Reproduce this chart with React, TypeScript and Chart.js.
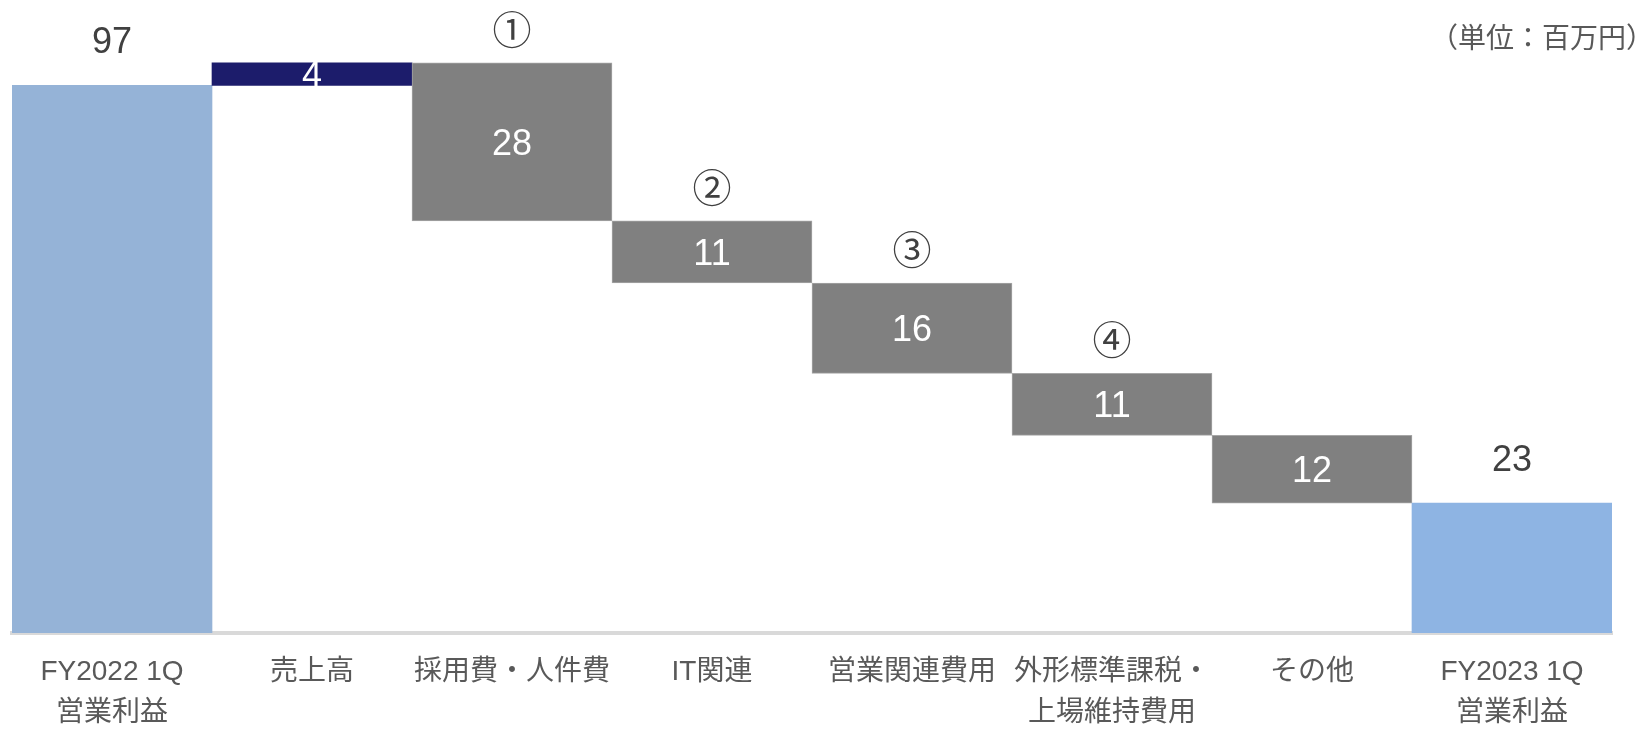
import React, { useEffect, useRef } from 'react';
import { Chart, registerables } from 'chart.js';

Chart.register(...registerables);

// ---- data ----
const categories: string[][] = [
  ['FY2022 1Q', '営業利益'],
  ['売上高'],
  ['採用費・人件費'],
  ['IT関連'],
  ['営業関連費用'],
  ['外形標準課税・', '上場維持費用'],
  ['その他'],
  ['FY2023 1Q', '営業利益'],
];
const changes: number[] = [97, 4, -28, -11, -16, -11, -12, 23];
const kinds: string[] = ['total', 'up', 'down', 'down', 'down', 'down', 'down', 'total'];
const markers: string[] = ['', '', '①', '②', '③', '④', '', ''];
const barColors: string[] = ['#95B3D7', '#1C1C6B', '#808080', '#808080', '#808080', '#808080', '#808080', '#8EB4E3'];
const unitLabel = '（単位：百万円）';
const yMax = 110;

const LATIN = '"Liberation Sans", Arial, "Noto Sans CJK JP", sans-serif';
const CJK = '"Noto Sans CJK JP", "Liberation Sans", sans-serif';

function buildRanges(): [number, number][] {
  let run = 0;
  return changes.map((v, i) => {
    if (kinds[i] === 'total') {
      run = v;
      return [0, v] as [number, number];
    }
    const s = run;
    run += v;
    return [Math.min(s, run), Math.max(s, run)] as [number, number];
  });
}

const labelPlugin = {
  id: 'waterfallLabels',
  afterDatasetsDraw(chart: any) {
    const ctx = chart.ctx as CanvasRenderingContext2D;
    const meta = chart.getDatasetMeta(0);
    meta.data.forEach((el: any, i: number) => {
      const top = Math.min(el.y, el.base);
      const bottom = Math.max(el.y, el.base);
      ctx.save();
      ctx.textAlign = 'center';
      ctx.textBaseline = 'middle';
      ctx.font = `36px ${LATIN}`;
      const txt = String(Math.abs(changes[i]));
      if (kinds[i] === 'total') {
        ctx.fillStyle = '#404040';
        ctx.fillText(txt, el.x, top - 42);
      } else {
        ctx.fillStyle = '#ffffff';
        ctx.fillText(txt, el.x, (top + bottom) / 2 + 3);
      }
      if (markers[i]) {
        ctx.font = `39px ${CJK}`;
        ctx.fillStyle = '#404040';
        ctx.fillText(markers[i], el.x, top - 34);
      }
      ctx.restore();
    });
  },
  afterDraw(chart: any) {
    const ctx = chart.ctx as CanvasRenderingContext2D;
    ctx.save();
    ctx.font = `28px ${CJK}`;
    ctx.fillStyle = '#595959';
    ctx.textAlign = 'right';
    ctx.textBaseline = 'middle';
    ctx.fillText(unitLabel, 1654, 37);
    ctx.restore();
  },
};

export default function App() {
  const ref = useRef<HTMLCanvasElement | null>(null);

  useEffect(() => {
    if (!ref.current) return;
    const ranges = buildRanges();
    const chart = new Chart(ref.current, {
      type: 'bar',
      data: {
        labels: categories as any,
        datasets: [
          {
            data: ranges as any,
            backgroundColor: barColors,
            borderColor: kinds.map((k) => (k === 'down' ? '#a6a6a6' : 'rgba(0,0,0,0)')),
            borderWidth: kinds.map((k) => (k === 'down' ? 1 : 0)),
            borderSkipped: false,
            barPercentage: 1,
            categoryPercentage: 1,
          },
        ],
      },
      options: {
        animation: false,
        responsive: false,
        devicePixelRatio: 1,
        layout: { padding: { left: 12, right: 33, top: 12, bottom: 0 } },
        plugins: {
          legend: { display: false },
          tooltip: { enabled: false },
          title: { display: false },
        },
        scales: {
          x: {
            type: 'category',
            z: 1,
            grid: { display: false, drawTicks: false },
            border: { display: true, color: '#d9d9d9', width: 4 },
            ticks: {
              color: '#595959',
              font: { size: 28, family: LATIN, lineHeight: 1.45 },
              padding: 19,
              maxRotation: 0,
              autoSkip: false,
            },
            afterFit(scale: any) {
              scale.height = 99;
            },
          },
          y: {
            display: false,
            min: 0,
            max: yMax,
            grid: { display: false },
          },
        },
      },
      plugins: [labelPlugin],
    });
    return () => chart.destroy();
  }, []);

  return (
    <div style={{ position: 'fixed', left: 0, top: 0, width: 1645, height: 732, background: '#fff' }}>
      <canvas ref={ref} width={1645} height={732} style={{ display: 'block' }} />
    </div>
  );
}
